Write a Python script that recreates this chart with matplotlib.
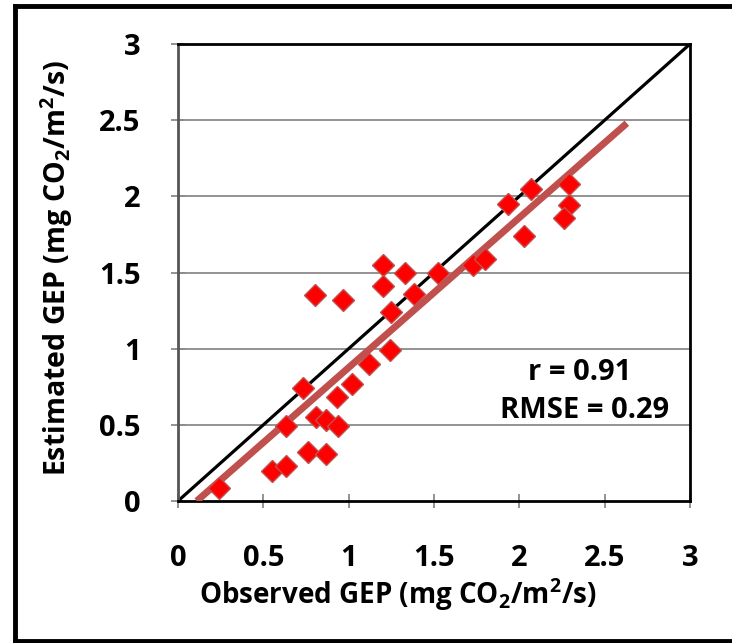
import matplotlib
matplotlib.use("Agg")
import matplotlib.pyplot as plt
from matplotlib.lines import Line2D

fam = 'Open Sans'
plt.rcParams['font.family'] = [fam, 'DejaVu Sans']
plt.rcParams['font.weight'] = 'bold'
plt.rcParams['mathtext.fontset'] = 'custom'
plt.rcParams['mathtext.rm'] = fam + ':bold'
plt.rcParams['mathtext.bf'] = fam + ':bold'
plt.rcParams['mathtext.default'] = 'bf'

observed = [0.24, 0.55, 0.63, 0.635, 0.73, 0.76, 0.81, 0.87, 0.94, 0.87, 0.93,
            1.02, 1.12, 1.24, 0.80, 0.965, 1.20, 1.20, 1.33, 1.38, 1.246, 1.525,
            1.73, 1.80, 2.03, 1.935, 2.07, 2.29, 2.29, 2.26]
estimated = [0.085, 0.20, 0.23, 0.49, 0.74, 0.32, 0.55, 0.53, 0.49, 0.31, 0.685,
             0.77, 0.90, 0.99, 1.35, 1.32, 1.55, 1.41, 1.495, 1.36, 1.24, 1.495,
             1.55, 1.59, 1.74, 1.95, 2.05, 2.08, 1.94, 1.855]
trend_x = [0.11, 2.63]
trend_y = [0.0, 2.48]
one_to_one = [0, 3]
ticks = [0, 0.5, 1, 1.5, 2, 2.5, 3]
tick_labels = ['0', '0.5', '1', '1.5', '2', '2.5', '3']
stats_text = ['r = 0.91', 'RMSE = 0.29']

fig = plt.figure(figsize=(7.32, 6.43), dpi=100)
ax = fig.add_axes([178/732, 1-501/643, (690-178)/732, (501-44)/643])

for yv in ticks[1:-1]:
    ax.axhline(yv, color='#8a8a8a', lw=1.3, zorder=1)

ax.plot(one_to_one, one_to_one, color='black', lw=2.3, zorder=2)
ax.plot(trend_x, trend_y, color='#C0504D', lw=5, zorder=3, solid_capstyle='butt')
ax.plot(observed, estimated, linestyle='none', marker='D', ms=11.5,
        markerfacecolor='#FF0000', markeredgecolor='#C0504D', markeredgewidth=1, zorder=4)

ax.set_xlim(0, 3)
ax.set_ylim(0, 3)
ax.set_xticks(ticks)
ax.set_xticklabels(tick_labels, fontsize=21, fontweight='bold')
ax.set_yticks(ticks)
ax.set_yticklabels(tick_labels, fontsize=21, fontweight='bold')
ax.tick_params(axis='both', direction='inout', length=10, width=1.3, color='#8a8a8a')
ax.tick_params(axis='x', pad=26)
ax.tick_params(axis='y', pad=22)

for s in ax.spines.values():
    s.set_color('black')
    s.set_linewidth(2)
ax.spines['left'].set_color('#555555')

ax.set_xlabel('Observed GEP (mg CO$_{2}$/m$^{2}$/s)', fontsize=20, fontweight='bold',
              va='center', ha='center')
ax.set_ylabel('Estimated GEP (mg CO$_{2}$/m$^{2}$/s)', fontsize=20.5, fontweight='bold',
              va='center', ha='center')
ax.xaxis.set_label_coords((397.5-178)/512, (501-595)/457)
ax.yaxis.set_label_coords((57-178)/512, (501-267.5)/457)

ax.text(580/732, 1-372/643, stats_text[0], transform=fig.transFigure, ha='center', va='center',
        fontsize=21, fontweight='bold')
ax.text(585/732, 1-410/643, stats_text[1], transform=fig.transFigure, ha='center', va='center',
        fontsize=21, fontweight='bold')

# outer frame
fig.add_artist(Line2D([15/732, 15/732], [1-641/643, 1-6/643], color='black', lw=3.5, transform=fig.transFigure))
fig.add_artist(Line2D([15/732, 1.0], [1-6/643, 1-6/643], color='black', lw=3.5, transform=fig.transFigure))
fig.add_artist(Line2D([15/732, 1.0], [1-641/643, 1-641/643], color='black', lw=3.5, transform=fig.transFigure))

fig.savefig('out.png', dpi=100)
